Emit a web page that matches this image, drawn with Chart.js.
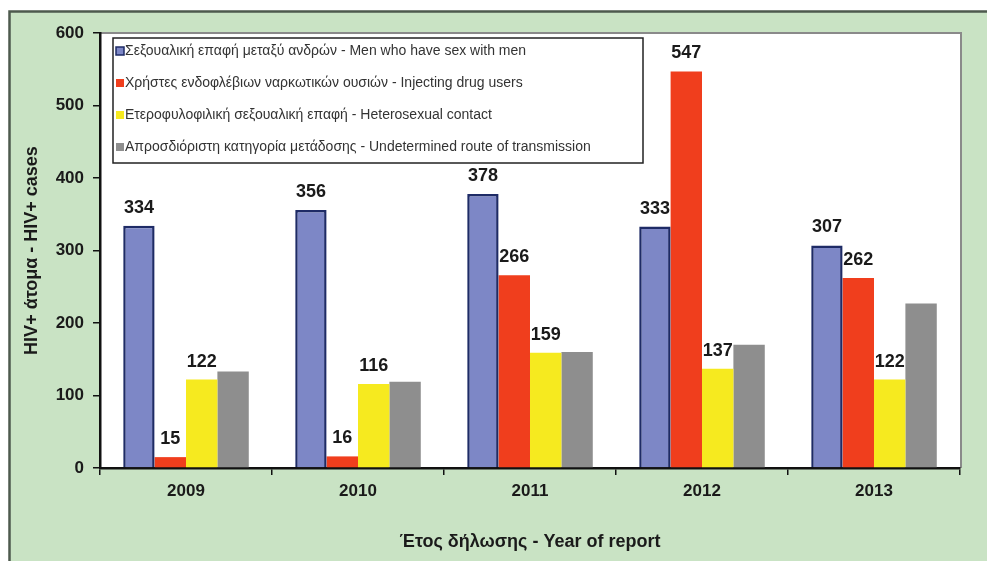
<!DOCTYPE html>
<html>
<head>
<meta charset="utf-8">
<script src="https://cdn.jsdelivr.net/npm/chart.js@4.4.1/dist/chart.umd.min.js"></script>
<style>
  html, body { margin: 0; padding: 0; background: #fff; }
  #wrap { width: 987px; height: 561px; position: relative; }
</style>
</head>
<body>
<div id="wrap"><canvas id="hivChart" width="987" height="561"></canvas></div>
<script>
const years = ['2009', '2010', '2011', '2012', '2013'];
const msmCases = [334, 356, 378, 333, 307];
const iduCases = [15, 16, 266, 547, 262];
const heteroCases = [122, 116, 159, 137, 122];
const undeterminedCases = [133, 119, 160, 170, 227];
const seriesNames = [
    'Σεξουαλική επαφή μεταξύ ανδρών - Men who have sex with men',
    'Χρήστες ενδοφλέβιων ναρκωτικών ουσιών - Injecting drug users',
    'Ετεροφυλοφιλική σεξουαλική επαφή - Heterosexual contact',
    'Απροσδιόριστη κατηγορία μετάδοσης - Undetermined route of transmission'
];
const yTicks = [0, 100, 200, 300, 400, 500, 600];

const FONT = 'Liberation Sans, Arial, sans-serif';

// green frame + white plot area with a soft grey edge
const backdrop = {
    id: 'backdrop',
    beforeDraw: (chart) => {
        const { ctx, chartArea: a } = chart;
        ctx.save();
        ctx.fillStyle = '#ffffff';
        ctx.fillRect(0, 0, chart.width, chart.height);
        ctx.fillStyle = '#c9e3c4';
        ctx.fillRect(9, 11, chart.width - 9, chart.height - 11);
        ctx.strokeStyle = '#4d5a4d';
        ctx.lineWidth = 2.5;
        ctx.beginPath();
        ctx.moveTo(9.5, chart.height);
        ctx.lineTo(9.5, 11.5);
        ctx.lineTo(chart.width, 11.5);
        ctx.stroke();
        ctx.fillStyle = '#ffffff';
        ctx.fillRect(a.left, a.top, a.right - a.left, a.bottom - a.top);
        ctx.strokeStyle = '#8a8a8a';
        ctx.lineWidth = 2;
        ctx.beginPath();
        ctx.moveTo(a.left, a.top);
        ctx.lineTo(a.right + 1, a.top);
        ctx.lineTo(a.right + 1, a.bottom);
        ctx.stroke();
        ctx.restore();
    }
};

// values above the first three series
const valueLabels = {
    id: 'valueLabels',
    afterDatasetsDraw: (chart) => {
        const ctx = chart.ctx;
        ctx.save();
        ctx.font = 'bold 18px ' + FONT;
        ctx.fillStyle = '#1a1a1a';
        ctx.textAlign = 'center';
        ctx.textBaseline = 'bottom';
        [0, 1, 2].forEach(di => {
            const meta = chart.getDatasetMeta(di);
            meta.data.forEach((bar, i) => {
                ctx.fillText(chart.data.datasets[di].data[i], bar.x, bar.y - 9);
            });
        });
        ctx.restore();
    }
};

// boxed legend inside the plot
const boxLegend = {
    id: 'boxLegend',
    afterDraw: (chart) => {
        const ctx = chart.ctx;
        const x = 113, y = 38, w = 530, h = 125;
        ctx.save();
        ctx.fillStyle = '#ffffff';
        ctx.fillRect(x, y, w, h);
        ctx.strokeStyle = '#222';
        ctx.lineWidth = 1.5;
        ctx.strokeRect(x, y, w, h);
        ctx.font = '14px ' + FONT;
        ctx.textBaseline = 'middle';
        ctx.textAlign = 'left';
        chart.data.datasets.forEach((ds, i) => {
            const ry = 51 + i * 32;
            ctx.fillStyle = ds.backgroundColor;
            ctx.fillRect(x + 3, ry - 4, 8, 8);
            if (ds.borderWidth) {
                ctx.strokeStyle = ds.borderColor;
                ctx.lineWidth = 1.5;
                ctx.strokeRect(x + 3, ry - 4, 8, 8);
            }
            ctx.fillStyle = '#333';
            ctx.fillText(ds.label, x + 12, ry);
        });
        ctx.restore();
    }
};

const ctx = document.getElementById('hivChart').getContext('2d');
new Chart(ctx, {
    type: 'bar',
    data: {
        labels: years,
        datasets: [
            { label: seriesNames[0], data: msmCases, backgroundColor: '#7d87c6', borderColor: '#1e2b66', borderWidth: 2.5, borderSkipped: 'bottom' },
            { label: seriesNames[1], data: iduCases, backgroundColor: '#f03e1d', borderWidth: 0 },
            { label: seriesNames[2], data: heteroCases, backgroundColor: '#f6ea1f', borderWidth: 0 },
            { label: seriesNames[3], data: undeterminedCases, backgroundColor: '#8e8e8e', borderWidth: 0 }
        ]
    },
    options: {
        responsive: false,
        animation: false,
        datasets: {
            bar: { categoryPercentage: 0.73, barPercentage: 1.0 }
        },
        layout: {
            padding: { left: 0, right: 27, top: 33, bottom: 0 }
        },
        plugins: {
            legend: { display: false },
            tooltip: { enabled: false }
        },
        scales: {
            x: {
                grid: { drawOnChartArea: false, color: '#111', lineWidth: 1.5, tickLength: 7, offset: true },
                border: { color: '#111', width: 2.5 },
                ticks: { color: '#1a1a1a', font: { family: FONT, size: 17, weight: 'bold' }, padding: 6 },
                title: {
                    display: true,
                    text: 'Έτος δήλωσης - Year of report',
                    color: '#1a1a1a',
                    font: { family: FONT, size: 18, weight: 'bold' },
                    padding: { top: 0, bottom: 8 }
                },
                afterFit: (scale) => { scale.height = 93; }
            },
            y: {
                min: 0,
                max: 600,
                afterBuildTicks: (scale) => { scale.ticks = yTicks.map(v => ({ value: v })); },
                grid: { drawOnChartArea: false, color: '#111', lineWidth: 1.5, tickLength: 7 },
                border: { color: '#111', width: 2.5 },
                ticks: { color: '#1a1a1a', font: { family: FONT, size: 17, weight: 'bold' }, padding: 9 },
                title: {
                    display: true,
                    text: 'HIV+ άτομα - HIV+ cases',
                    color: '#1a1a1a',
                    font: { family: FONT, size: 18, weight: 'bold' },
                    padding: { top: 21, bottom: 0 }
                },
                afterFit: (scale) => { scale.width = 100; }
            }
        }
    },
    plugins: [backdrop, valueLabels, boxLegend]
});
</script>
</body>
</html>
